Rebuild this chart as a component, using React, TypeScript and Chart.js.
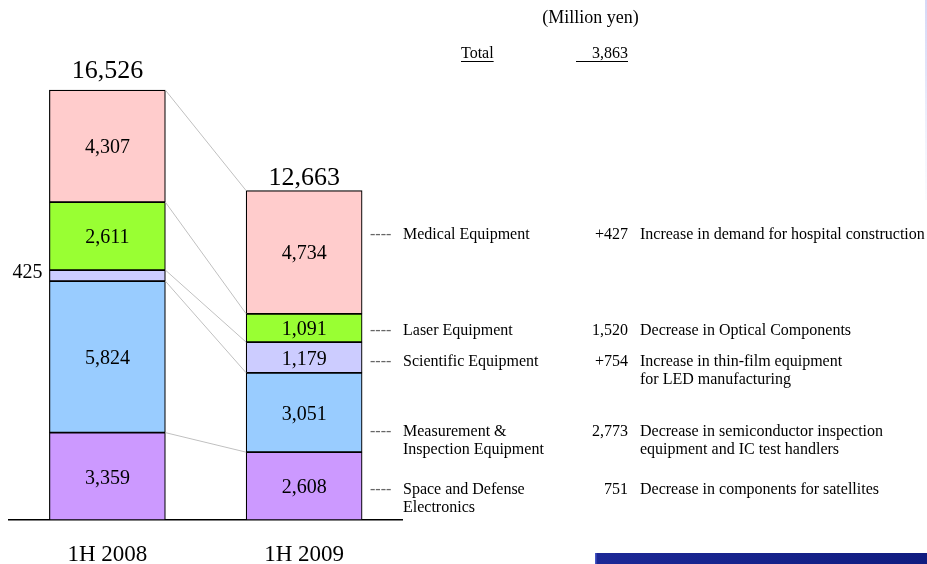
import { useEffect, useRef } from "react";
import { Chart, registerables } from "chart.js";

Chart.register(...registerables);

// ---- data ----
const periods = ["1H 2008", "1H 2009"];
const segmentNames = [
  "Space and Defense Electronics",
  "Measurement & Inspection Equipment",
  "Scientific Equipment",
  "Laser Equipment",
  "Medical Equipment",
];
const spaceDefense = [3359, 2608];
const measurement = [5824, 3051];
const scientific = [425, 1179];
const laser = [2611, 1091];
const medical = [4307, 4734];
const totals = [16526, 12663];

const annotationNames = [
  ["Space and Defense", "Electronics"],
  ["Measurement &", "Inspection Equipment"],
  ["Scientific Equipment"],
  ["Laser Equipment"],
  ["Medical Equipment"],
];
const changes = ["751", "2,773", "+754", "1,520", "+427"];
const reasons = [
  ["Decrease in components for satellites"],
  ["Decrease in semiconductor inspection", "equipment and IC test handlers"],
  ["Increase in thin-film equipment", "for LED manufacturing"],
  ["Decrease in Optical Components"],
  ["Increase in demand for hospital construction"],
];
const unitText = "(Million yen)";
const totalText = "Total";
const totalChange = "3,863";

// ---- style / layout ----
const colors = ["#CC99FF", "#99CCFF", "#CCCCFF", "#99FF33", "#FFCCCC"];
const annotationY = [488, 430, 360, 329, 233];
const totalGap = [20, 13];
const SERIF = "'Liberation Serif', 'Times New Roman', serif";

const fmt = (v: number) => v.toLocaleString("en-US");

const overlayPlugin = {
  id: "overlay",
  afterDatasetsDraw(chart: any) {
    const ctx = chart.ctx as CanvasRenderingContext2D;
    const metas = chart.data.datasets.map((_: any, i: number) => chart.getDatasetMeta(i));
    ctx.save();

    // connector lines between bars
    ctx.strokeStyle = "#c0c0c0";
    ctx.lineWidth = 1;
    metas.forEach((meta: any) => {
      const a = meta.data[0];
      const b = meta.data[1];
      ctx.beginPath();
      ctx.moveTo(a.x + a.width / 2, a.y);
      ctx.lineTo(b.x - b.width / 2, b.y);
      ctx.stroke();
    });

    // segment value labels
    ctx.fillStyle = "#000";
    ctx.font = `20px ${SERIF}`;
    ctx.textBaseline = "middle";
    metas.forEach((meta: any, di: number) => {
      meta.data.forEach((el: any, j: number) => {
        const v = chart.data.datasets[di].data[j] as number;
        const mid = (el.y + el.base) / 2;
        if (Math.abs(el.base - el.y) < 20) {
          ctx.textAlign = "right";
          ctx.fillText(fmt(v), el.x - el.width / 2 - 7, mid - 3);
        } else {
          ctx.textAlign = "center";
          ctx.fillText(fmt(v), el.x, mid + 2);
        }
      });
    });

    // totals
    const topMeta = metas[metas.length - 1];
    ctx.font = `26px ${SERIF}`;
    ctx.textAlign = "center";
    topMeta.data.forEach((el: any, j: number) => {
      ctx.fillText(fmt(totals[j]), el.x, el.y - totalGap[j] + 1);
    });

    // right-hand annotations
    ctx.font = `16px ${SERIF}`;
    ctx.textBaseline = "alphabetic";
    const lh = 18.5;
    annotationNames.forEach((lines, i) => {
      const base = annotationY[i] + 5.5;
      ctx.fillStyle = "#666";
      ctx.textAlign = "left";
      ctx.fillText("----", 370, base);
      ctx.fillStyle = "#000";
      lines.forEach((t, k) => ctx.fillText(t, 403, base + k * lh));
      ctx.textAlign = "right";
      ctx.fillText(changes[i], 628, base);
      ctx.textAlign = "left";
      reasons[i].forEach((t, k) => ctx.fillText(t, 640, base + k * lh));
    });

    // header
    ctx.font = `18px ${SERIF}`;
    ctx.textAlign = "center";
    ctx.textBaseline = "middle";
    ctx.fillText(unitText, 590.5, 18);
    ctx.font = `16px ${SERIF}`;
    ctx.textBaseline = "alphabetic";
    ctx.textAlign = "left";
    ctx.fillText(totalText, 461, 58);
    const tw = ctx.measureText(totalText).width;
    ctx.textAlign = "right";
    ctx.fillText(totalChange, 628, 58);
    ctx.strokeStyle = "#000";
    ctx.lineWidth = 1;
    ctx.beginPath();
    ctx.moveTo(461, 61.5);
    ctx.lineTo(461 + tw, 61.5);
    ctx.moveTo(576, 61.5);
    ctx.lineTo(628, 61.5);
    ctx.stroke();

    // decorative slide elements
    const g = ctx.createLinearGradient(595, 0, 927, 0);
    g.addColorStop(0, "#1c2896");
    g.addColorStop(1, "#101c80");
    ctx.fillStyle = g;
    ctx.fillRect(595, 553, 332, 11);
    ctx.fillStyle = "#4656c4";
    ctx.fillRect(595, 553, 1.5, 11);
    const g2 = ctx.createLinearGradient(0, 0, 0, 200);
    g2.addColorStop(0, "rgba(214,216,246,1)");
    g2.addColorStop(0.35, "rgba(222,224,248,0.9)");
    g2.addColorStop(1, "rgba(240,240,252,0.3)");
    ctx.fillStyle = g2;
    ctx.fillRect(925, 0, 2, 200);

    ctx.restore();
  },
};

export default function App() {
  const ref = useRef<HTMLCanvasElement | null>(null);
  useEffect(() => {
    if (!ref.current) return;
    const series = [spaceDefense, measurement, scientific, laser, medical];
    const chart = new Chart(ref.current, {
      type: "bar",
      data: {
        labels: periods,
        datasets: series.map((d, i) => ({
          label: segmentNames[i],
          data: d,
          backgroundColor: colors[i],
          borderColor: "#000",
          borderWidth: 1.2,
          borderSkipped: false,
          barThickness: 116,
        })),
      },
      options: {
        responsive: false,
        animation: false,
        events: [],
        layout: { padding: { top: 51.8, left: 9, right: 524.5, bottom: 0 } },
        plugins: {
          legend: { display: false },
          tooltip: { enabled: false },
          title: { display: false },
        },
        scales: {
          x: {
            stacked: true,
            grid: { display: false, drawTicks: false },
            border: { display: true, color: "#000", width: 1.5 },
            ticks: {
              color: "#000",
              padding: 23,
              font: { family: SERIF, size: 23, lineHeight: 1 },
            },
            afterFit: (scale: any) => {
              scale.height = 44;
            },
          },
          y: {
            stacked: true,
            display: false,
            min: 0,
            max: 18000,
          },
        },
      },
      plugins: [overlayPlugin],
    });
    return () => chart.destroy();
  }, []);
  return (
    <div style={{ position: "fixed", left: 0, top: 0, width: 927, height: 564, background: "#fff" }}>
      <canvas ref={ref} width={927} height={564} style={{ display: "block" }} />
    </div>
  );
}
